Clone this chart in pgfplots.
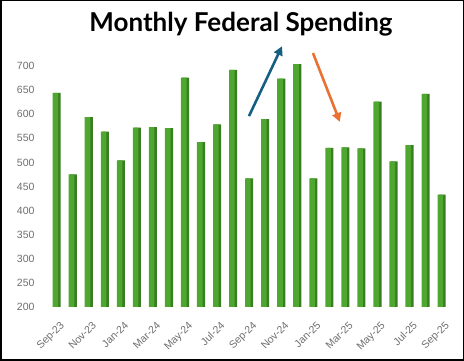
\documentclass[border=0pt]{standalone}
\usepackage{pgfplots}
\pgfplotsset{compat=1.18}
\usepackage{fontspec}
\setmainfont{Liberation Sans}
\newfontfamily\titlefont{Lato}
\definecolor{barfront}{HTML}{4EA72E}
\definecolor{barside}{HTML}{3B7D23}
\definecolor{tickgray}{HTML}{6E6E6E}
\definecolor{arrblue}{HTML}{156082}
\definecolor{arrorange}{HTML}{E97132}
\usetikzlibrary{arrows.meta}
\begin{document}
\begin{tikzpicture}
\useasboundingbox (0pt,0pt) rectangle (464pt,361pt);
\draw[line width=1.5pt] (0.75pt,0.75pt) rectangle (463.25pt,360.25pt);
\node[font=\titlefont\bfseries\fontsize{26}{30}\selectfont] at (241pt,337pt) {Monthly Federal Spending};
\begin{axis}[
  at={(40pt,54pt)}, anchor=south west,
  scale only axis, width=417pt, height=241pt,
  xmin=-1, xmax=25, ymin=200, ymax=700,
  axis line style={draw=none},
  tick style={draw=none},
  clip=false,
  ytick={200,250,...,700},
  y tick label style={font=\fontsize{10.5}{12}\selectfont, text=tickgray, xshift=-2pt},
  /pgf/number format/assume math mode=true,
  xtick={0,2,...,24},
  xticklabels={Sep-23,Nov-23,Jan-24,Mar-24,May-24,Jul-24,Sep-24,Nov-24,Jan-25,Mar-25,May-25,Jul-25,Sep-25},
  xticklabel style={font=\fontsize{10.5}{12}\selectfont, text=tickgray, rotate=45, anchor=north east, inner sep=1pt, xshift=-3pt, yshift=-8pt},
  ybar, bar width=7pt,
]
\addplot[fill=barside, draw=none, bar shift=1.2pt] coordinates {
(0,644)(1,475)(2,594)(3,564)(4,504)(5,572)(6,573)(7,571)(8,676)(9,542)(10,579)(11,692)
(12,467)(13,590)(14,674)(15,704)(16,467)(17,530)(18,531)(19,529)(20,626)(21,502)(22,536)(23,642)(24,433)};
\addplot[fill=barfront, draw=none, bar shift=-0.6pt, bar width=5.6pt] coordinates {
(0,644)(1,475)(2,594)(3,564)(4,504)(5,572)(6,573)(7,571)(8,676)(9,542)(10,579)(11,692)
(12,467)(13,590)(14,674)(15,704)(16,467)(17,530)(18,531)(19,529)(20,626)(21,502)(22,536)(23,642)(24,433)};
\draw[arrblue, line width=2.6pt, -{Triangle[length=9pt,width=9pt]}] (axis cs:12.03,596) -- (axis cs:14.09,741);
\draw[arrorange, line width=2.6pt, -{Triangle[length=9pt,width=9pt]}] (axis cs:16.02,727) -- (axis cs:17.7,584);
\end{axis}
\end{tikzpicture}
\end{document}
